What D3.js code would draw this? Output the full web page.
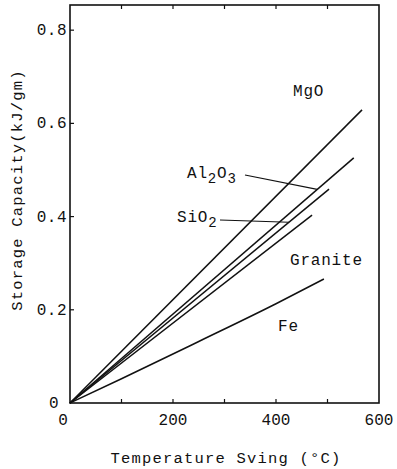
<!DOCTYPE html>
<html>
<head>
<meta charset="utf-8">
<script src="https://cdn.jsdelivr.net/npm/d3@7"></script>
<style>
  html, body { margin: 0; padding: 0; background: #fff; }
  svg { display: block; }
  text { font-family: "Liberation Mono", "DejaVu Sans Mono", monospace; fill: #111; }
</style>
</head>
<body>
<svg id="chart" width="397" height="469"></svg>
<script>
// ---- data ----
const xTicks = [0, 200, 400, 600];
const xMinorTicks = [100, 200, 300, 400, 500];
const yTicks = [0, 0.2, 0.4, 0.6, 0.8];
const yTickLabels = ["0", "0.2", "0.4", "0.6", "0.8"];

const mgoX = [0, 567];
const mgoY = [0, 0.629];
const al2o3X = [0, 551];
const al2o3Y = [0, 0.526];
const sio2X = [0, 503];
const sio2Y = [0, 0.459];
const graniteX = [0, 470];
const graniteY = [0, 0.403];
const feX = [0, 100, 250, 400, 493];
const feY = [0, 0.052, 0.132, 0.213, 0.266];

const seriesNames = ["MgO", "Al2O3", "SiO2", "Granite", "Fe"];

// ---- layout ----
const svg = d3.select("#chart");
const x = d3.scaleLinear().domain([0, 600]).range([70, 379]);
const y = d3.scaleLinear().domain([0, 0.854]).range([403, 5]);
const ink = "#111";

// frame
svg.append("rect")
  .attr("x", x(0)).attr("y", y(0.854))
  .attr("width", x(600) - x(0)).attr("height", y(0) - y(0.854))
  .attr("fill", "none").attr("stroke", ink).attr("stroke-width", 1.6);

// inward ticks
const tk = 4;
svg.append("g").selectAll("line.bx").data(xMinorTicks).join("line")
  .attr("x1", d => x(d)).attr("x2", d => x(d))
  .attr("y1", y(0)).attr("y2", y(0) - tk)
  .attr("stroke", ink).attr("stroke-width", 1.2);
svg.append("g").selectAll("line.tx").data(xMinorTicks).join("line")
  .attr("x1", d => x(d)).attr("x2", d => x(d))
  .attr("y1", y(0.854)).attr("y2", y(0.854) + tk)
  .attr("stroke", ink).attr("stroke-width", 1.2);
svg.append("g").selectAll("line.ly").data(yTicks.slice(1)).join("line")
  .attr("x1", x(0)).attr("x2", x(0) + tk)
  .attr("y1", d => y(d)).attr("y2", d => y(d))
  .attr("stroke", ink).attr("stroke-width", 1.2);

// tick labels
svg.append("g").selectAll("text").data(xTicks).join("text")
  .attr("x", d => x(d) + (d === 0 ? -7 : 0))
  .attr("y", y(0) + 22)
  .attr("text-anchor", "middle")
  .attr("font-size", 16)
  .text(d => d);

svg.append("g").selectAll("text").data(yTicks).join("text")
  .attr("x", (d, i) => i === 0 ? 59 : 67)
  .attr("y", d => y(d) + 5)
  .attr("text-anchor", "end")
  .attr("font-size", 16)
  .attr("letter-spacing", 0.5)
  .text((d, i) => yTickLabels[i]);

// axis titles
svg.append("text")
  .attr("transform", "translate(22,190) rotate(-90)")
  .attr("text-anchor", "middle")
  .attr("font-size", 15.5)
  .attr("letter-spacing", 1.2)
  .text("Storage Capacity(kJ/gm)");

svg.append("text")
  .attr("x", 226).attr("y", 463)
  .attr("text-anchor", "middle")
  .attr("font-size", 15.5)
  .attr("letter-spacing", 1.2)
  .text("Temperature Sving (°C)");

// series lines
const series = [
  { xs: mgoX, ys: mgoY },
  { xs: al2o3X, ys: al2o3Y },
  { xs: sio2X, ys: sio2Y },
  { xs: graniteX, ys: graniteY },
  { xs: feX, ys: feY }
];
const line = d3.line().x(d => x(d[0])).y(d => y(d[1])).curve(d3.curveMonotoneX);
series.forEach(s => {
  svg.append("path")
    .datum(s.xs.map((v, i) => [v, s.ys[i]]))
    .attr("d", line)
    .attr("fill", "none")
    .attr("stroke", ink)
    .attr("stroke-width", 1.5);
});

// labels
const lab = svg.append("g").attr("font-size", 16).attr("letter-spacing", 0.8);
lab.append("text").attr("x", 293).attr("y", 96).text("MgO");
lab.append("text").attr("x", 290).attr("y", 265).text("Granite");
lab.append("text").attr("x", 278).attr("y", 331).text("Fe");

// Al2O3 with subscripts
const al = lab.append("text").attr("x", 187).attr("y", 178);
al.append("tspan").text("Al");
al.append("tspan").attr("dy", 5).attr("font-size", 14).text("2");
al.append("tspan").attr("dy", -5).text("O");
al.append("tspan").attr("dy", 5).attr("font-size", 14).text("3");

const si = lab.append("text").attr("x", 177).attr("y", 222);
si.append("tspan").text("SiO");
si.append("tspan").attr("dy", 5).attr("font-size", 14).text("2");

// leader lines
svg.append("line").attr("x1", 245).attr("y1", 175).attr("x2", x(480)).attr("y2", y(al2o3Y[1] * 480 / al2o3X[1]))
  .attr("stroke", ink).attr("stroke-width", 1.2);
svg.append("line").attr("x1", 220).attr("y1", 220).attr("x2", x(425)).attr("y2", y(sio2Y[1] * 425 / sio2X[1]))
  .attr("stroke", ink).attr("stroke-width", 1.2);
</script>
</body>
</html>
